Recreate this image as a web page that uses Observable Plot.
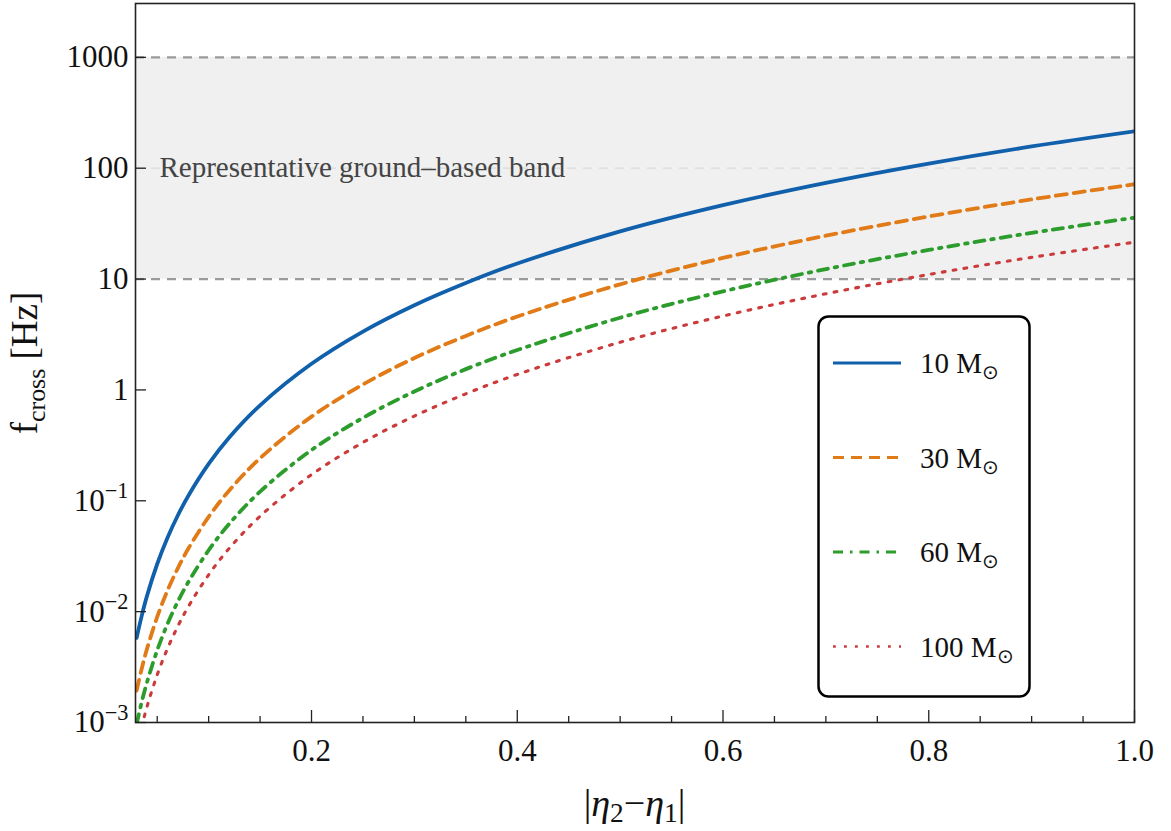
<!DOCTYPE html>
<html><head><meta charset="utf-8">
<script src="https://cdn.jsdelivr.net/npm/d3@7"></script>
<script src="https://cdn.jsdelivr.net/npm/@observablehq/plot@0.6"></script>
<style>
html,body{margin:0;padding:0;background:#fff;}
#chart{width:1171px;height:831px;}
</style></head><body><div id="chart"></div>
<script>
// |eta2 - eta1| sample positions
const eta = [0.03, 0.035, 0.04, 0.05, 0.06, 0.07, 0.08, 0.1, 0.12, 0.15, 0.2, 0.25, 0.3, 0.35, 0.4, 0.5, 0.6, 0.7, 0.8, 0.9, 1.0];
// f_cross [Hz]
const f10  = [0.0058, 0.0092, 0.0138, 0.0269, 0.0464, 0.0737, 0.110, 0.215, 0.372, 0.726, 1.72, 3.36, 5.81, 9.22, 13.8, 26.9, 46.4, 73.7, 110, 157, 215];
const f30  = [0.00194, 0.00307, 0.00459, 0.00896, 0.0155, 0.0246, 0.0367, 0.0717, 0.124, 0.242, 0.574, 1.12, 1.94, 3.07, 4.59, 8.96, 15.5, 24.6, 36.7, 52.3, 71.7];
const f60  = [0.00097, 0.00154, 0.00229, 0.00448, 0.00774, 0.0123, 0.0183, 0.0358, 0.0619, 0.121, 0.287, 0.56, 0.968, 1.54, 2.29, 4.48, 7.74, 12.3, 18.3, 26.1, 35.8];
const f100 = [0.00058, 0.00092, 0.00138, 0.00269, 0.00464, 0.00737, 0.0110, 0.0215, 0.0372, 0.0726, 0.172, 0.336, 0.581, 0.922, 1.38, 2.69, 4.64, 7.37, 11.0, 15.7, 21.5];
const seriesNames = ["10", "30", "60", "100"];
const seriesValues = [f10, f30, f60, f100];

const bandLimits = [10, 1000];
const bandCenter = [100];
const bandLabel = "Representative ground\u2013based band";

const xDomain = [0.0289, 1.0];
const yDomain = [1e-3, 3060];
const xMajorTicks = [0.2, 0.4, 0.6, 0.8, 1.0];
const xMajorLabels = ["0.2", "0.4", "0.6", "0.8", "1.0"];
const xMinorTicks = [0.05, 0.1, 0.15, 0.25, 0.3, 0.35, 0.45, 0.5, 0.55, 0.65, 0.7, 0.75, 0.85, 0.9, 0.95];
const yTicks = [1e-3, 1e-2, 1e-1, 1, 10, 100, 1000];
const yTickLabels = ["10^\u22123", "10^\u22122", "10^\u22121", "1", "10", "100", "1000"];

const styles = {
  "10":  {stroke: "#1060ac", strokeWidth: 3.8, dash: null},
  "30":  {stroke: "#e07b17", strokeWidth: 3.8, dash: "11,7"},
  "60":  {stroke: "#2c9c2c", strokeWidth: 3.8, dash: "10,7,2.5,7"},
  "100": {stroke: "#cc3b3b", strokeWidth: 3.1, dash: "2.8,8.2"}
};

const data = seriesNames.flatMap((s, i) => eta.map((x, j) => ({x, f: seriesValues[i][j], s})));

const FONT = "'Liberation Serif', 'Times New Roman', serif";

const plot = Plot.plot({
  width: 1171, height: 831,
  marginLeft: 135, marginRight: 37, marginTop: 3, marginBottom: 109,
  style: {fontFamily: FONT, fontSize: "31px", color: "#111", background: "transparent", overflow: "visible"},
  x: {domain: xDomain, label: null},
  y: {type: "log", domain: yDomain, label: null},
  marks: [
    Plot.rect([bandLimits], {x1: () => xDomain[0], x2: () => xDomain[1], y1: d => d[0], y2: d => d[1], fill: "#f0f0f0"}),
    Plot.ruleY(bandCenter, {stroke: "#d9d9d9", strokeWidth: 1.2, strokeDasharray: "9,7"}),
    Plot.ruleY(bandLimits, {stroke: "#9a9a9a", strokeWidth: 2.2, strokeDasharray: "9,7"}),
    Plot.text(bandCenter, {x: () => xDomain[0], y: d => d, text: () => bandLabel, dx: 24, textAnchor: "start", fill: "#444", fontSize: 29}),
    ...seriesNames.map(s => Plot.line(data.filter(d => d.s === s), {
      x: "x", y: "f", stroke: styles[s].stroke, strokeWidth: styles[s].strokeWidth,
      strokeDasharray: styles[s].dash, curve: "catmull-rom", clip: true
    })),
    Plot.axisX({ticks: xMinorTicks, tickSize: -6, tickFormat: () => "", stroke: "#222", strokeWidth: 1.3}),
    Plot.axisX({ticks: xMajorTicks, tickSize: -12, tickFormat: () => "", stroke: "#222", strokeWidth: 1.3}),
    Plot.axisX({ticks: xMajorTicks, tickSize: 0, tickPadding: 16, tickFormat: d => xMajorLabels[xMajorTicks.indexOf(d)], fill: "#111"}),
    Plot.axisY({ticks: yTicks, tickSize: -11, tickFormat: () => "", stroke: "#222", strokeWidth: 1.3}),
    Plot.axisY({ticks: yTicks, tickSize: 0, tickPadding: 7, tickFormat: d => yTickLabels[yTicks.indexOf(d)], fill: "#111"}),
    Plot.frame({stroke: "#222", strokeWidth: 1.6})
  ]
});
document.getElementById("chart").appendChild(plot);

const svg = d3.select(plot);
// superscripts in y tick labels
svg.selectAll('g[aria-label="y-axis tick label"] text').each(function () {
  const t = this.textContent;
  if (t.includes("^")) {
    const [base, exp] = t.split("^");
    const sel = d3.select(this);
    sel.text(null);
    sel.append("tspan").text(base);
    sel.append("tspan").attr("font-size", "0.72em").attr("dy", "-0.55em").text(exp);
  }
});

// axis titles
const yl = svg.append("text")
  .attr("transform", "translate(37,363) rotate(-90)")
  .attr("text-anchor", "middle").attr("font-family", FONT).attr("font-size", 37).attr("fill", "#111");
yl.append("tspan").text("f");
yl.append("tspan").attr("font-size", "0.7em").attr("dy", "0.3em").text("cross");
yl.append("tspan").attr("dy", "-0.21em").text(" [Hz]");

const xl = svg.append("text")
  .attr("x", 634.5).attr("y", 816)
  .attr("text-anchor", "middle").attr("font-family", FONT).attr("font-size", 38).attr("fill", "#111");
xl.append("tspan").text("|");
xl.append("tspan").attr("font-style", "italic").text("\u03b7");
xl.append("tspan").attr("font-size", "0.72em").attr("dy", "0.22em").text("2");
xl.append("tspan").attr("dy", "-0.16em").text("\u2212");
xl.append("tspan").attr("font-style", "italic").text("\u03b7");
xl.append("tspan").attr("font-size", "0.72em").attr("dy", "0.22em").text("1");
xl.append("tspan").attr("dy", "-0.16em").text("|");

// legend
const lg = svg.append("g");
lg.append("rect").attr("x", 818.5).attr("y", 316.5).attr("width", 211).attr("height", 380)
  .attr("rx", 10).attr("fill", "#fff").attr("stroke", "#000").attr("stroke-width", 2.5);
seriesNames.forEach((s, i) => {
  const y = 363 + i * 94.5;
  lg.append("line").attr("x1", 833).attr("x2", 901).attr("y1", y).attr("y2", y)
    .attr("stroke", styles[s].stroke).attr("stroke-width", styles[s].strokeWidth * 0.75)
    .attr("stroke-dasharray", styles[s].dash);
  const t = lg.append("text").attr("x", 920).attr("y", y + 10)
    .attr("text-anchor", "start")
    .attr("font-family", FONT).attr("font-size", 29).attr("fill", "#111");
  t.append("tspan").text(s + " M");
  t.append("tspan").attr("font-size", "0.7em").attr("dy", "0.32em").text("\u2299");
});
</script>
</body></html>
